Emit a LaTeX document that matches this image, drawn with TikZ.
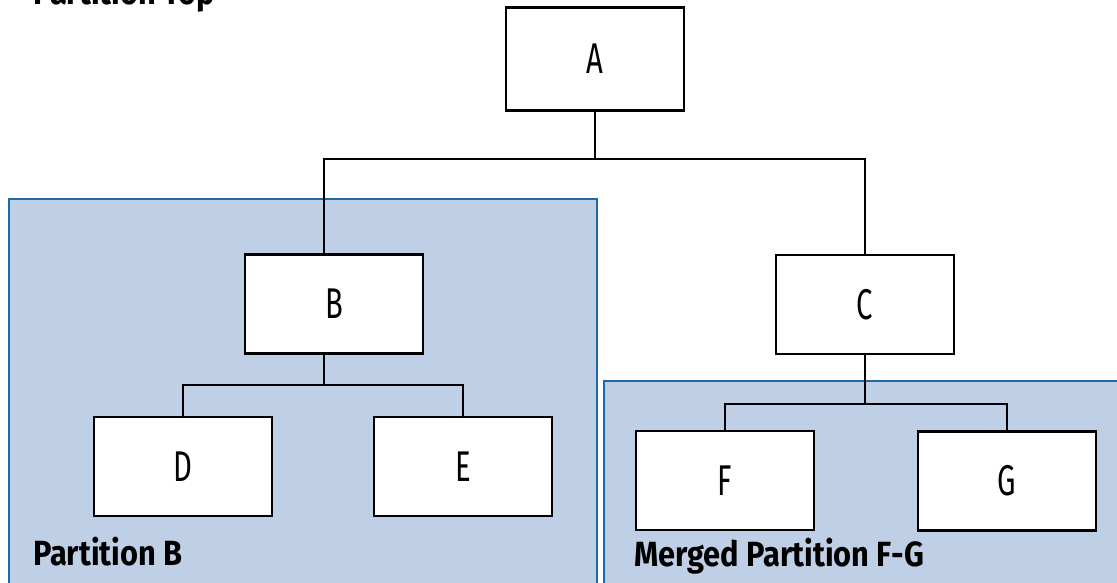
\documentclass[tikz,border=0pt]{standalone}
\usepackage{fontspec}
\setmainfont{Fira Sans}
\newfontfamily\boxfont{Fira Sans}[FakeStretch=0.68]
\newfontfamily\partfont{Fira Sans}[FakeStretch=0.88]
\usetikzlibrary{positioning}
\definecolor{partfill}{HTML}{BFCFE5}
\definecolor{partline}{HTML}{1F6AA5}

\tikzset{
  treebox/.style={draw, line width=2.4pt, fill=white, minimum width=178pt,
    minimum height=99pt, inner sep=0pt, font=\boxfont\fontsize{43}{43}\selectfont},
  link/.style={line width=2pt},
  partition/.style={draw=partline, fill=partfill, line width=2pt},
  partlabel/.style={anchor=base west, inner sep=0pt,
    font=\partfont\bfseries\fontsize{35}{35}\selectfont},
}

\begin{document}
\begin{tikzpicture}[x=1pt, y=-1pt]
\useasboundingbox (0,0) rectangle (1117,582);
% partitions
\draw[partition] (9,199) rectangle (597,600);
\draw[partition] (604,381) rectangle (1130,600);
\node[partlabel] (toplabel) at (33,4) {Partition Top};
\node[partlabel] (blabel) at (33,565) {Partition B};
\node[partlabel] (fglabel) at (634,566) {Merged Partition F-G};
% tree
\node[treebox, minimum height=103pt] (A) at (595,59) {A};
\node[treebox] (B) at (334,304) {B};
\node[treebox] (C) at (865,304.5) {C};
\node[treebox] (D) at (183,466.5) {D};
\node[treebox] (E) at (463,466.5) {E};
\node[treebox] (F) at (725,480.5) {F};
\node[treebox] (G) at (1007,481) {G};
% connectors
\draw[link] (A.south) -- ++(0,47) coordinate (splitA);
\draw[link] ([xshift=-10pt]B.north) |- (splitA) -| (C.north);
\draw[link] ([xshift=-10pt]B.south) -- ++(0,30) coordinate (splitB);
\draw[link] (D.north) |- (splitB) -| (E.north);
\draw[link] (C.south) -- ++(0,49) coordinate (splitC);
\draw[link] (F.north) |- (splitC) -| (G.north);
\end{tikzpicture}
\end{document}
